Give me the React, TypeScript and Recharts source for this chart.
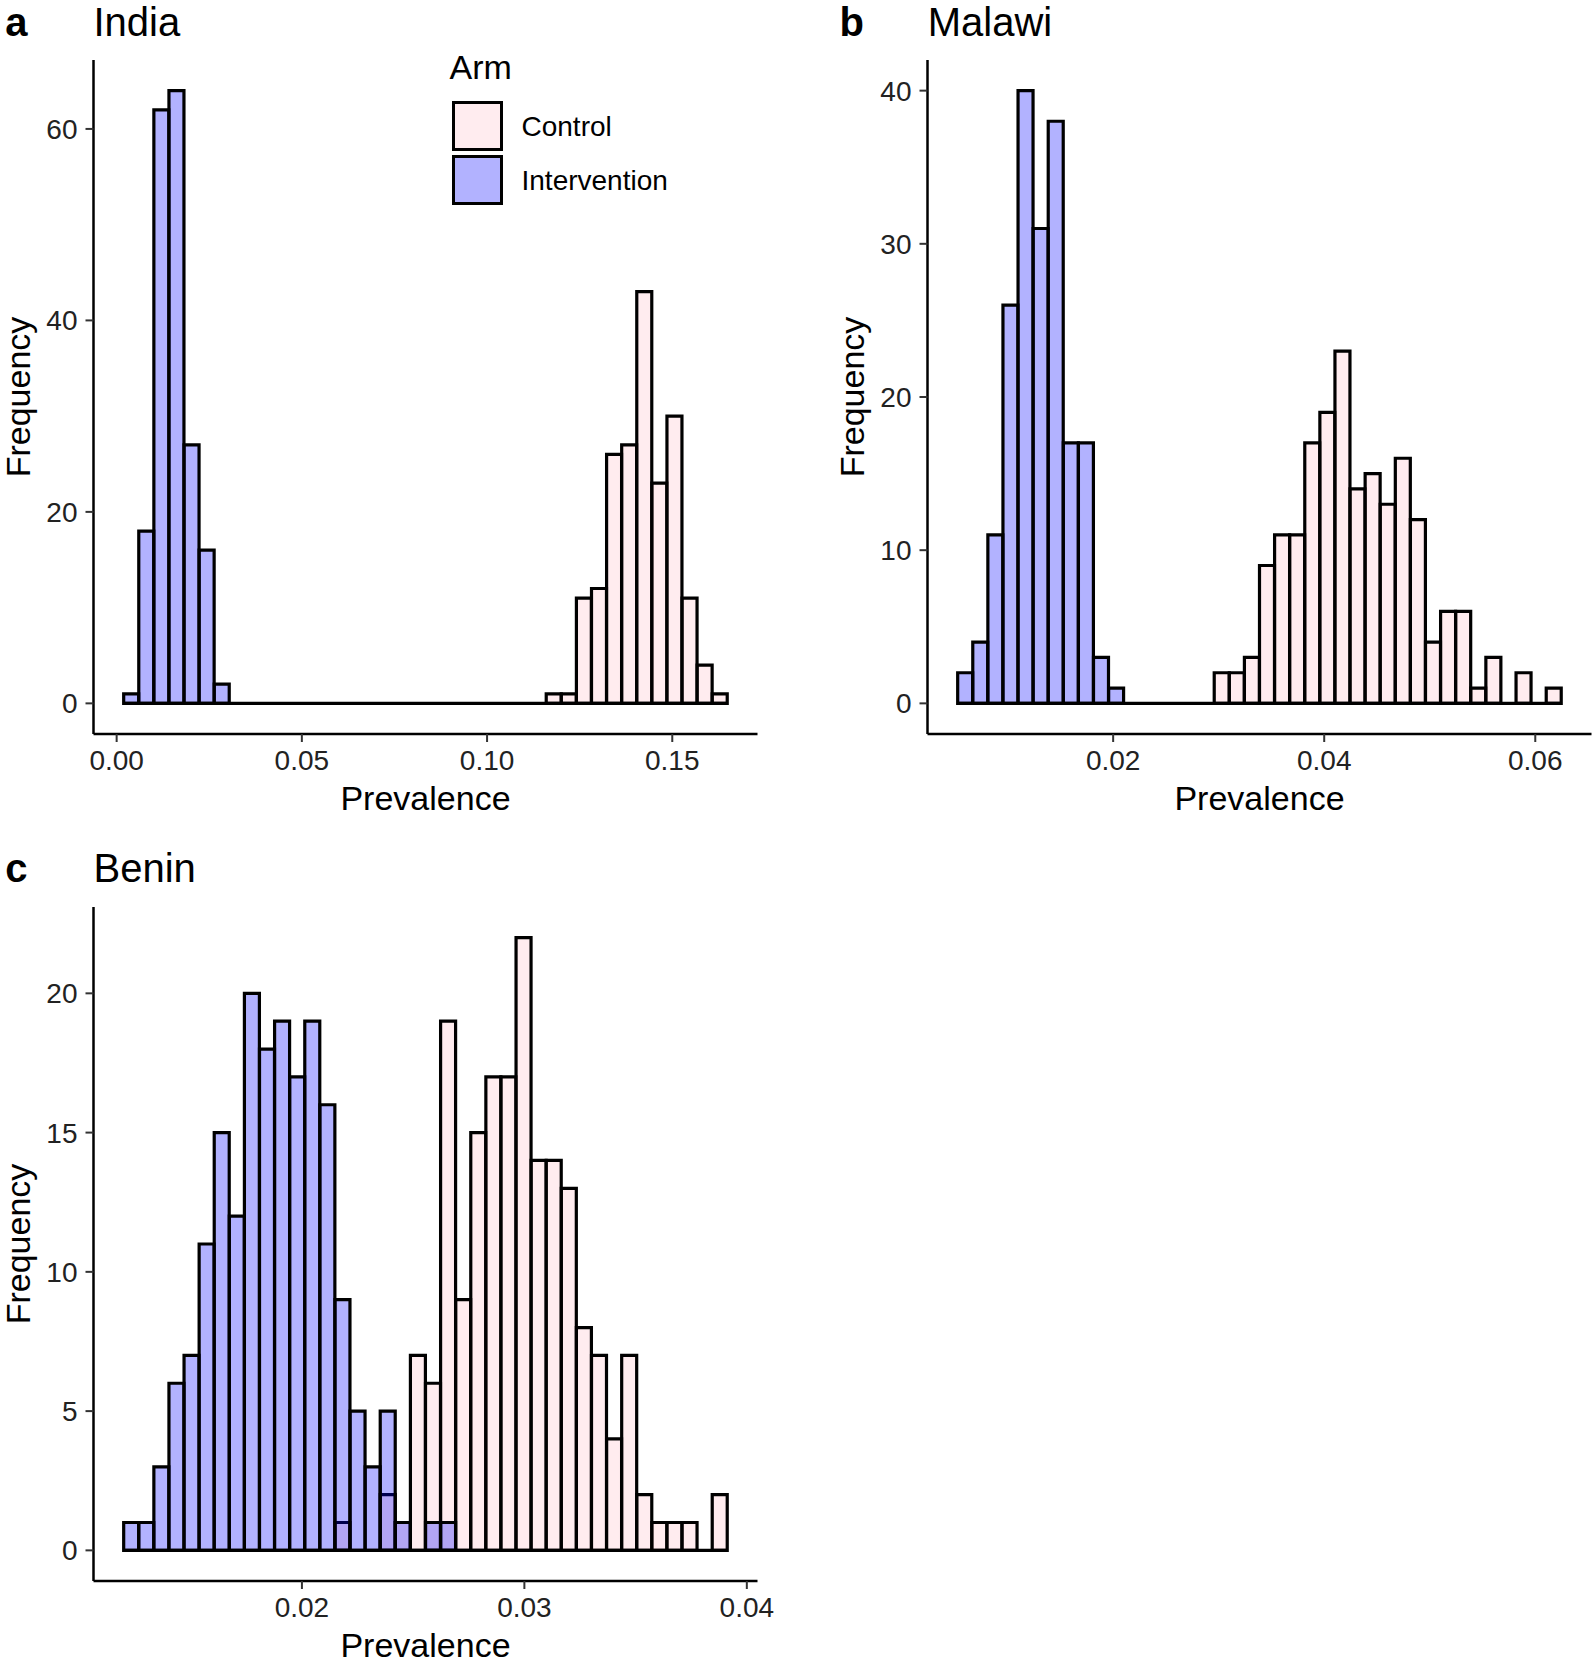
import React from 'react';
import { BarChart, Bar, XAxis, YAxis, ReferenceLine, Legend } from 'recharts';

const FONT = '"Liberation Sans", Arial, Helvetica, sans-serif';

// Arms (legend order, draw order)
const ARMS = ['Control', 'Intervention'];
const ARM_COLORS = ['pink', 'blue'];
const ARM_ALPHA = 0.3;

// ---------- India (40 bins) ----------
const indiaControl = [
  0, 0, 0, 0, 0, 0, 0, 0, 0, 0,
  0, 0, 0, 0, 0, 0, 0, 0, 0, 0,
  0, 0, 0, 0, 0, 0, 0, 0, 1, 1,
  11, 12, 26, 27, 43, 23, 30, 11, 4, 1,
];
const indiaIntervention = [
  1, 18, 62, 64, 27, 16, 2, 0, 0, 0,
  0, 0, 0, 0, 0, 0, 0, 0, 0, 0,
  0, 0, 0, 0, 0, 0, 0, 0, 0, 0,
  0, 0, 0, 0, 0, 0, 0, 0, 0, 0,
];
const indiaFirstEdge = 0.0019;
const indiaBinWidth = 0.004074;
const indiaXTicks = [0, 0.05, 0.1, 0.15];
const indiaYTicks = [0, 20, 40, 60];

// ---------- Malawi (40 bins) ----------
const malawiControl = [
  0, 0, 0, 0, 0, 0, 0, 0, 0, 0,
  0, 0, 0, 0, 0, 0, 0, 2, 2, 3,
  9, 11, 11, 17, 19, 23, 14, 15, 13, 16,
  12, 4, 6, 6, 1, 3, 0, 2, 0, 1,
];
const malawiIntervention = [
  2, 4, 11, 26, 40, 31, 38, 17, 17, 3,
  1, 0, 0, 0, 0, 0, 0, 0, 0, 0,
  0, 0, 0, 0, 0, 0, 0, 0, 0, 0,
  0, 0, 0, 0, 0, 0, 0, 0, 0, 0,
];
const malawiFirstEdge = 0.005268;
const malawiBinWidth = 0.00143;
const malawiXTicks = [0.02, 0.04, 0.06];
const malawiYTicks = [0, 10, 20, 30, 40];

// ---------- Benin (40 bins) ----------
const beninControl = [
  0, 0, 0, 0, 0, 0, 0, 0, 0, 0,
  0, 0, 0, 0, 1, 0, 0, 2, 1, 7,
  6, 19, 9, 15, 17, 17, 22, 14, 14, 13,
  8, 7, 4, 7, 2, 1, 1, 1, 0, 2,
];
const beninIntervention = [
  1, 1, 3, 6, 7, 11, 15, 12, 20, 18,
  19, 17, 19, 16, 9, 5, 3, 5, 1, 0,
  1, 1, 0, 0, 0, 0, 0, 0, 0, 0,
  0, 0, 0, 0, 0, 0, 0, 0, 0, 0,
];
const beninFirstEdge = 0.011987;
const beninBinWidth = 0.0006784;
const beninXTicks = [0.02, 0.03, 0.04];
const beninYTicks = [0, 5, 10, 15, 20];

// ggplot expands continuous scales by 5%: with 40 bins that is 2 bin widths per side
const PAD_BINS = 2;

function buildRows(control: number[], intervention: number[]) {
  const rows: any[] = [];
  const n = control.length;
  for (let i = -PAD_BINS; i < n + PAD_BINS; i++) {
    const inside = i >= 0 && i < n;
    rows.push({
      bin: i,
      Control: inside && control[i] > 0 ? control[i] : null,
      Intervention: inside && intervention[i] > 0 ? intervention[i] : null,
    });
  }
  return rows;
}

const renderLegend = (props: any) => {
  const payload = props.payload || [];
  return (
    <div style={{ position: 'relative', width: 220, height: 170, fontFamily: FONT, color: '#000' }}>
      <div style={{ position: 'absolute', left: 0.5, top: 0, fontSize: 34, lineHeight: '34px', whiteSpace: 'nowrap' }}>Arm</div>
      {ARMS.map((arm, i) => (
        <React.Fragment key={arm}>
          <div
            style={{
              position: 'absolute',
              left: 2.5,
              top: 51.5 + i * 54,
              width: 51,
              height: 50,
              boxSizing: 'border-box',
              border: '3.5px solid #000',
              background: ARM_COLORS[i] === 'pink' ? 'rgba(255,192,203,0.3)' : 'rgba(0,0,255,0.3)',
            }}
          />
          <div
            style={{
              position: 'absolute',
              left: 72.5,
              top: 63.3 + i * 54.2,
              fontSize: 28,
              lineHeight: '28px',
              whiteSpace: 'nowrap',
            }}
          >
            {payload[i] ? payload[i].value : arm}
          </div>
        </React.Fragment>
      ))}
    </div>
  );
};

const PLOT_W = 664;
const PLOT_H = 674;
const Y_AXIS_W = 93.5;
const X_AXIS_H = 85;
const MARGIN = { top: 4, right: 36, bottom: 0, left: 0 };

type PanelProps = {
  control: number[];
  intervention: number[];
  firstEdge: number;
  binWidth: number;
  xTicks: number[];
  yTicks: number[];
  left: number;
  top: number;
  legend?: boolean;
};

function Panel({ control, intervention, firstEdge, binWidth, xTicks, yTicks, left, top, legend }: PanelProps) {
  const rows = buildRows(control, intervention);
  const n = control.length;
  const lastEdge = firstEdge + n * binWidth;
  const lo = firstEdge - PAD_BINS * binWidth;
  const hi = lastEdge + PAD_BINS * binWidth;
  const yMax = Math.max(...control, ...intervention);
  const yDomain = [-0.05 * yMax, 1.05 * yMax];
  const width = Y_AXIS_W + PLOT_W + MARGIN.right;
  const height = MARGIN.top + PLOT_H + X_AXIS_H;
  const tickStyle = { fontSize: 28, fill: '#222', fontFamily: FONT };

  return (
    <div style={{ position: 'absolute', left, top }}>
      <BarChart
        width={width}
        height={height}
        data={rows}
        margin={MARGIN}
        barCategoryGap={0}
        barGap={0}
      >
        <XAxis xAxisId="catC" dataKey="bin" type="category" hide height={0} />
        <XAxis xAxisId="catI" dataKey="bin" type="category" hide height={0} />
        <XAxis
          xAxisId="num"
          type="number"
          dataKey="bin"
          domain={[lo, hi]}
          allowDataOverflow
          ticks={xTicks}
          tickFormatter={(v: number) => v.toFixed(2)}
          height={X_AXIS_H}
          tickSize={8}
          tickMargin={8}
          tick={tickStyle}
          axisLine={{ stroke: '#000', strokeWidth: 2.5 }}
          tickLine={{ stroke: '#333', strokeWidth: 2 }}
          interval={0}
          label={{
            content: (p: any) => {
              const vb = p.viewBox || {};
              return (
                <text
                  x={vb.x + vb.width / 2}
                  y={vb.y + 76}
                  textAnchor="middle"
                  fontSize={34}
                  fontFamily={FONT}
                  fill="#000"
                >
                  Prevalence
                </text>
              );
            },
          }}
        />
        <YAxis
          type="number"
          domain={yDomain}
          allowDataOverflow
          ticks={yTicks}
          width={Y_AXIS_W}
          tickSize={8}
          tickMargin={8}
          tick={tickStyle}
          axisLine={{ stroke: '#000', strokeWidth: 2.5 }}
          tickLine={{ stroke: '#333', strokeWidth: 2 }}
          interval={0}
          label={{
            content: (p: any) => {
              const vb = p.viewBox || {};
              const cx = vb.x + 29.6;
              const cy = vb.y + vb.height / 2;
              return (
                <text
                  x={cx}
                  y={cy}
                  transform={`rotate(-90, ${cx}, ${cy})`}
                  textAnchor="middle"
                  fontSize={34}
                  fontFamily={FONT}
                  fill="#000"
                >
                  Frequency
                </text>
              );
            },
          }}
        />
        <ReferenceLine
          xAxisId="num"
          segment={[{ x: firstEdge, y: 0 }, { x: lastEdge, y: 0 }]}
          stroke="#000"
          strokeWidth={3.2}
          ifOverflow="visible"
        />
        <Bar
          xAxisId="catC"
          dataKey="Control"
          name="Control"
          fill={ARM_COLORS[0]}
          fillOpacity={ARM_ALPHA}
          stroke="#000"
          strokeWidth={3.2}
          isAnimationActive={false}
        />
        <Bar
          xAxisId="catI"
          dataKey="Intervention"
          name="Intervention"
          fill={ARM_COLORS[1]}
          fillOpacity={ARM_ALPHA}
          stroke="#000"
          strokeWidth={3.2}
          isAnimationActive={false}
        />
        {legend && (
          <Legend
            layout="vertical"
            align="center"
            verticalAlign="middle"
            content={renderLegend}
            wrapperStyle={{ left: 449, top: -6.5, width: 220, height: 170 }}
          />
        )}
      </BarChart>
    </div>
  );
}

const TITLES = [
  { tag: 'a', name: 'India', x: 5.3, nx: 93.5, y: 36 },
  { tag: 'b', name: 'Malawi', x: 839.5, nx: 927.7, y: 36 },
  { tag: 'c', name: 'Benin', x: 5.3, nx: 93.5, y: 882 },
];

export default function App() {
  return (
    <div style={{ position: 'absolute', left: 0, top: 0, width: 1594, height: 1666, background: '#fff', overflow: 'hidden' }}>
      <Panel
        control={indiaControl}
        intervention={indiaIntervention}
        firstEdge={indiaFirstEdge}
        binWidth={indiaBinWidth}
        xTicks={indiaXTicks}
        yTicks={indiaYTicks}
        left={0}
        top={56}
        legend
      />
      <Panel
        control={malawiControl}
        intervention={malawiIntervention}
        firstEdge={malawiFirstEdge}
        binWidth={malawiBinWidth}
        xTicks={malawiXTicks}
        yTicks={malawiYTicks}
        left={834.2}
        top={56}
      />
      <Panel
        control={beninControl}
        intervention={beninIntervention}
        firstEdge={beninFirstEdge}
        binWidth={beninBinWidth}
        xTicks={beninXTicks}
        yTicks={beninYTicks}
        left={0}
        top={903}
      />
      <svg
        width={1594}
        height={1666}
        style={{ position: 'absolute', left: 0, top: 0, pointerEvents: 'none' }}
      >
        {TITLES.map((t) => (
          <g key={t.tag}>
            <text x={t.x} y={t.y} fontSize={40} fontWeight="bold" fontFamily={FONT} fill="#000">
              {t.tag}
            </text>
            <text x={t.nx} y={t.y} fontSize={40} fontFamily={FONT} fill="#000">
              {t.name}
            </text>
          </g>
        ))}
      </svg>
    </div>
  );
}
